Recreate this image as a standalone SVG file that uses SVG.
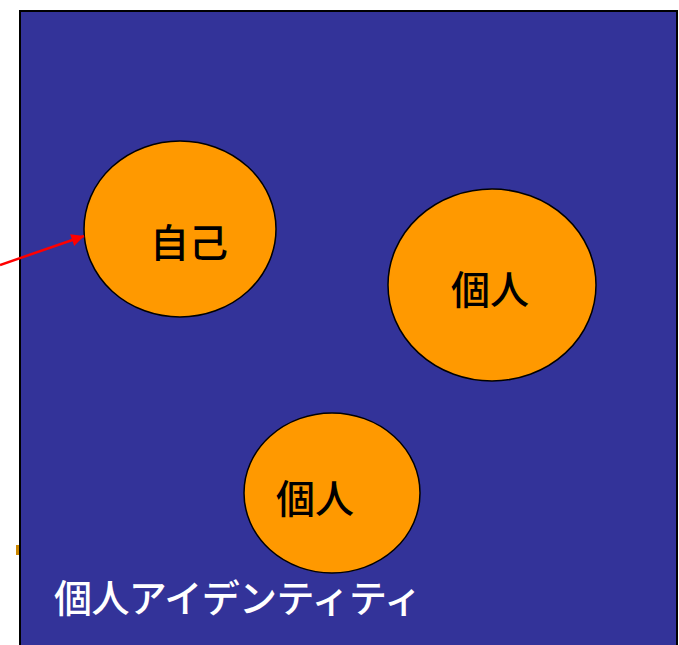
<svg xmlns="http://www.w3.org/2000/svg" width="679" height="645" viewBox="0 0 679 645">
<defs>
<style>
.bg{fill:#333399;stroke:#000;stroke-width:2}
.node{fill:#FF9900;stroke:#000;stroke-width:1.5}
.lbl{font-family:"Noto Sans CJK JP","Noto Sans",sans-serif;font-size:39px;font-weight:500;fill:#000;text-anchor:middle}
.title{font-family:"Noto Sans CJK JP","Noto Sans",sans-serif;font-size:38px;font-weight:500;fill:#fff}
</style>
<marker id="ah" viewBox="0 0 10 10" refX="10" refY="5" markerWidth="7" markerHeight="5" orient="auto" markerUnits="strokeWidth">
<path d="M0,0 L10,5 L0,10 z" fill="#FF0000"/>
</marker>
</defs>
<rect class="bg" x="20" y="11" width="657" height="650"/>
<rect x="16" y="545" width="3" height="10" fill="#CC8800"/>
<g id="self">
<ellipse class="node" cx="180" cy="229" rx="96" ry="88"/>
<text class="lbl" x="189" y="257">自己</text>
</g>
<g id="individual1">
<ellipse class="node" cx="492" cy="285" rx="104" ry="96"/>
<text class="lbl" x="490" y="304">個人</text>
</g>
<g id="individual2">
<ellipse class="node" cx="332" cy="493" rx="88" ry="80"/>
<text class="lbl" x="315" y="513">個人</text>
</g>
<g id="title">
<text class="title" x="54" y="612" textLength="368">個人アイデンティティ</text>
</g>
<g id="connectors">
<line x1="0" y1="265" x2="84" y2="236" stroke="#FF0000" stroke-width="2.5" marker-end="url(#ah)"/>
</g>
</svg>
